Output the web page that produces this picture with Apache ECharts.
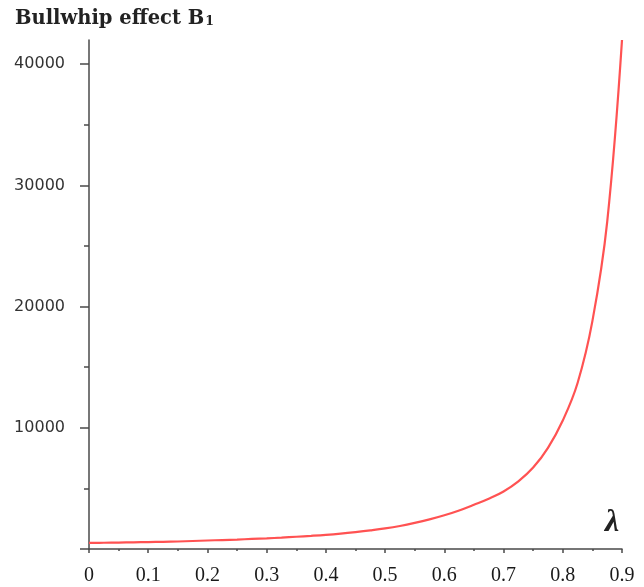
<!DOCTYPE html>
<html>
<head>
<meta charset="utf-8">
<script src="https://cdn.jsdelivr.net/npm/echarts@6/dist/echarts.min.js"></script>
<style>html,body{margin:0;padding:0;background:#fff}#c{width:644px;height:587px}</style>
</head>
<body>
<div id="c"></div>
<script>
const lambdaValues = [0, 0.025, 0.05, 0.075, 0.1, 0.125, 0.15, 0.175, 0.2, 0.225, 0.25, 0.275, 0.3, 0.325, 0.35, 0.375, 0.4, 0.425, 0.45, 0.475, 0.5, 0.525, 0.55, 0.575, 0.6, 0.625, 0.65, 0.675, 0.7, 0.725, 0.75, 0.775, 0.8, 0.825, 0.85, 0.875, 0.9];
const bullwhipB1 = [500, 515, 530, 550, 570, 595, 620, 660, 700, 740, 780, 830, 880, 940, 1010, 1085, 1170, 1275, 1400, 1540, 1700, 1900, 2150, 2440, 2780, 3180, 3650, 4150, 4750, 5580, 6720, 8350, 10600, 13700, 18800, 27000, 42000];
const yLabelValues = [10000, 20000, 30000, 40000];
const yMajorTicks = [0, 10000, 20000, 30000, 40000];
const yMinorTicks = [5000, 15000, 25000, 35000];
const titleText = 'Bullwhip effect B';
const titleSub = '1';
const xName = 'λ';

const chart = echarts.init(document.getElementById('c'));
const axisColor = '#4a4a4a';
chart.setOption({
  animation: false,
  backgroundColor: '#fff',
  title: {
    left: 15, top: 9, padding: 0,
    text: '{a|' + titleText + '}{s|' + titleSub + '}',
    textStyle: {
      rich: {
        a: { fontFamily: 'DejaVu Serif', fontWeight: 'bold', fontSize: 19.5, color: '#222', lineHeight: 26, verticalAlign: 'top' },
        s: { fontFamily: 'DejaVu Serif', fontWeight: 'bold', fontSize: 12.5, color: '#222', lineHeight: 26, verticalAlign: 'top', padding: [6, 0, 0, 1] }
      }
    }
  },
  grid: { left: 89, right: 22, top: 40, bottom: 38, containLabel: false, outerBoundsMode: 'none' },
  xAxis: {
    type: 'value', min: 0, max: 0.9, interval: 0.1,
    name: xName, nameLocation: 'end', nameGap: -10,
    nameTextStyle: { fontFamily: 'Liberation Serif', fontStyle: 'italic', fontWeight: 'bold', fontSize: 32, color: '#222', align: 'center', verticalAlign: 'bottom', padding: [0, 0, 10, 0] },
    axisLine: { lineStyle: { color: axisColor, width: 1.5 } },
    axisTick: { length: 4, lineStyle: { color: axisColor, width: 1.5 } },
    minorTick: { show: true, splitNumber: 2, length: 2, lineStyle: { color: axisColor, width: 1.5 } },
    splitLine: { show: false },
    axisLabel: { fontFamily: 'Liberation Serif', fontSize: 20, color: '#1a1a1a', margin: 17 }
  },
  yAxis: [{
    type: 'value', min: 0, max: 42000,
    axisLine: { show: true, lineStyle: { color: axisColor, width: 1.5 } },
    axisTick: { show: true, length: 9, customValues: yMajorTicks, lineStyle: { color: axisColor, width: 1.5 } },
    splitLine: { show: false },
    axisLabel: { customValues: yLabelValues, formatter: v => String(v), fontFamily: 'DejaVu Sans', fontSize: 16, color: '#333', margin: 24 }
  }, {
    type: 'value', min: 0, max: 42000, position: 'left',
    axisLine: { show: false },
    axisTick: { show: true, length: 5, customValues: yMinorTicks, lineStyle: { color: axisColor, width: 1.5 } },
    splitLine: { show: false },
    axisLabel: { show: false }
  }],
  series: [{
    type: 'line',
    data: lambdaValues.map((x, i) => [x, bullwhipB1[i]]),
    smooth: 0.4,
    showSymbol: false,
    lineStyle: { color: '#ff5252', width: 2.2 }
  }]
});
</script>
</body>
</html>
